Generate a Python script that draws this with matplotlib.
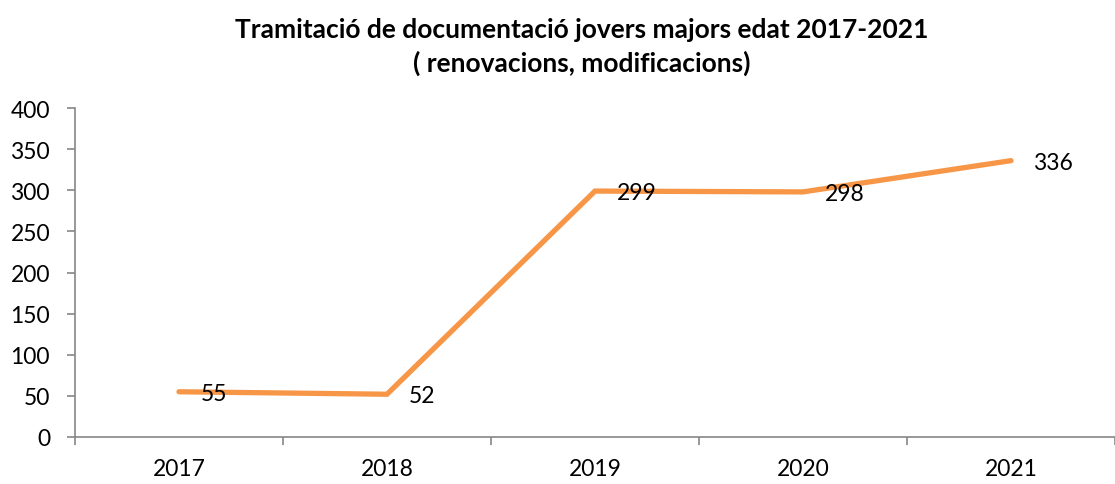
import numpy as np
import matplotlib as mpl
mpl.use('Agg')
import matplotlib.pyplot as plt

# data
aYear = ['2017', '2018', '2019', '2020', '2021']
aValue = [55, 52, 299, 298, 336]
aYtick = [0, 50, 100, 150, 200, 250, 300, 350, 400]

sTitle = 'Tramitació de documentació jovers majors edat 2017-2021\n( renovacions, modificacions)'

plt.rcParams['font.family'] = ['Lato', 'DejaVu Sans']

fig = plt.figure(figsize=(11.15, 4.85), dpi=100)
ax = fig.add_axes([75/1115, 47/485, 1040/1115, 329/485])

x = np.arange(len(aYear))
ax.plot(x, aValue, color='#F79646', linewidth=3.8, solid_capstyle='round', solid_joinstyle='miter')

#data labels right of the points
for i in range(len(aValue)):
    ax.annotate(str(aValue[i]), (x[i], aValue[i]), xytext=(16, -1), textcoords='offset points',
                ha='left', va='center', fontsize=16.5, color='black')

ax.set_xlim(-0.5, len(aYear) - 0.5)
ax.set_ylim(0, 400)
ax.set_yticks(aYtick)
ax.set_xticks(x)
ax.set_xticklabels(aYear)
ax.set_xticks(np.arange(-0.5, len(aYear), 1.0), minor=True)

ax.tick_params(axis='x', which='major', length=0, pad=15, labelsize=16.5)
ax.tick_params(axis='x', which='minor', length=6, color='#868686', width=1.2)
ax.tick_params(axis='y', which='major', length=6, color='#868686', width=1.2, pad=12, labelsize=16.5)

for s in ['top', 'right']:
    ax.spines[s].set_visible(False)
for s in ['left', 'bottom']:
    ax.spines[s].set_color('#868686')
    ax.spines[s].set_linewidth(1.2)

fig.text(0.522, 0.962, sTitle, ha='center', va='top', fontsize=19, fontweight='bold', linespacing=1.4)

plt.savefig('out.png', dpi=100)
plt.close('all')
